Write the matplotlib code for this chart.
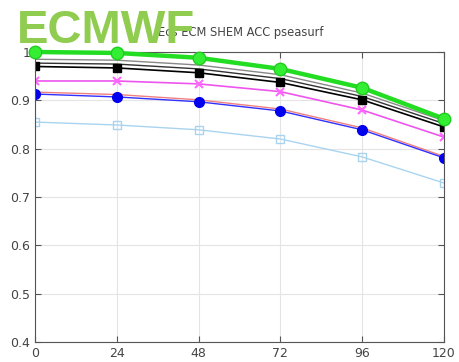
import matplotlib
matplotlib.use("Agg")
import matplotlib.pyplot as plt

steps = [0, 24, 48, 72, 96, 120]

green = [1.000, 0.998, 0.988, 0.965, 0.926, 0.862]
grey = [0.985, 0.983, 0.973, 0.953, 0.915, 0.858]
black_thin = [0.977, 0.975, 0.965, 0.945, 0.908, 0.852]
black_sq = [0.970, 0.967, 0.957, 0.937, 0.901, 0.845]
magenta = [0.940, 0.940, 0.934, 0.918, 0.880, 0.824]
pink = [0.917, 0.912, 0.901, 0.882, 0.843, 0.784]
blue = [0.913, 0.907, 0.897, 0.878, 0.839, 0.781]
lightblue = [0.855, 0.849, 0.839, 0.820, 0.783, 0.729]

fig = plt.figure(figsize=(4.59, 3.62), dpi=100)
ax = fig.add_axes([0.0763, 0.0552, 0.8907, 0.8012])

ax.plot(steps, lightblue, color="#a9d4f0", lw=1.0, marker="s", ms=6,
        mfc="none", mec="#a9d4f0")
ax.plot(steps, pink, color="#f08080", lw=1.0)
ax.plot(steps, blue, color="#3030ff", lw=1.0, marker="o", ms=7,
        mfc="#0000ee", mec="#0000ee")
ax.plot(steps, magenta, color="#ee55ee", lw=1.2, marker="x", ms=6,
        mec="#ff66ff", mew=1.5)
ax.plot(steps, grey, color="#888888", lw=1.0)
ax.plot(steps, black_thin, color="#333333", lw=1.0)
ax.plot(steps, black_sq, color="#000000", lw=1.2, marker="s", ms=6,
        mfc="black", mec="black")
ax.plot(steps, green, color="#22dd22", lw=3.2, marker="o", ms=9,
        mfc="#33ee33", mec="#22cc22", clip_on=False, zorder=5)

ax.set_xlim(0, 120)
ax.set_ylim(0.4, 1.0)
ax.set_xticks(steps)
ax.set_yticks([0.4, 0.5, 0.6, 0.7, 0.8, 0.9, 1.0])
ax.set_yticklabels(["0.4", "0.5", "0.6", "0.7", "0.8", "0.9", "1"])
ax.grid(True, color="#e4e4e4", lw=0.8)
ax.tick_params(direction="in", length=4, color="#555555", labelsize=9,
               labelcolor="#444444", top=True, right=True)
for s in ax.spines.values():
    s.set_color("#555555")

fig.text(0.525, 0.911, "Ecs ECM SHEM ACC pseasurf", ha="center", va="center",
         fontsize=8.3, color="#444444")
fig.text(0.037, 0.880, "ECMWF", ha="left", va="baseline", fontsize=34,
         fontweight="bold", family="Liberation Sans", color="#8fcc50")

fig.savefig("out.png", dpi=100)
